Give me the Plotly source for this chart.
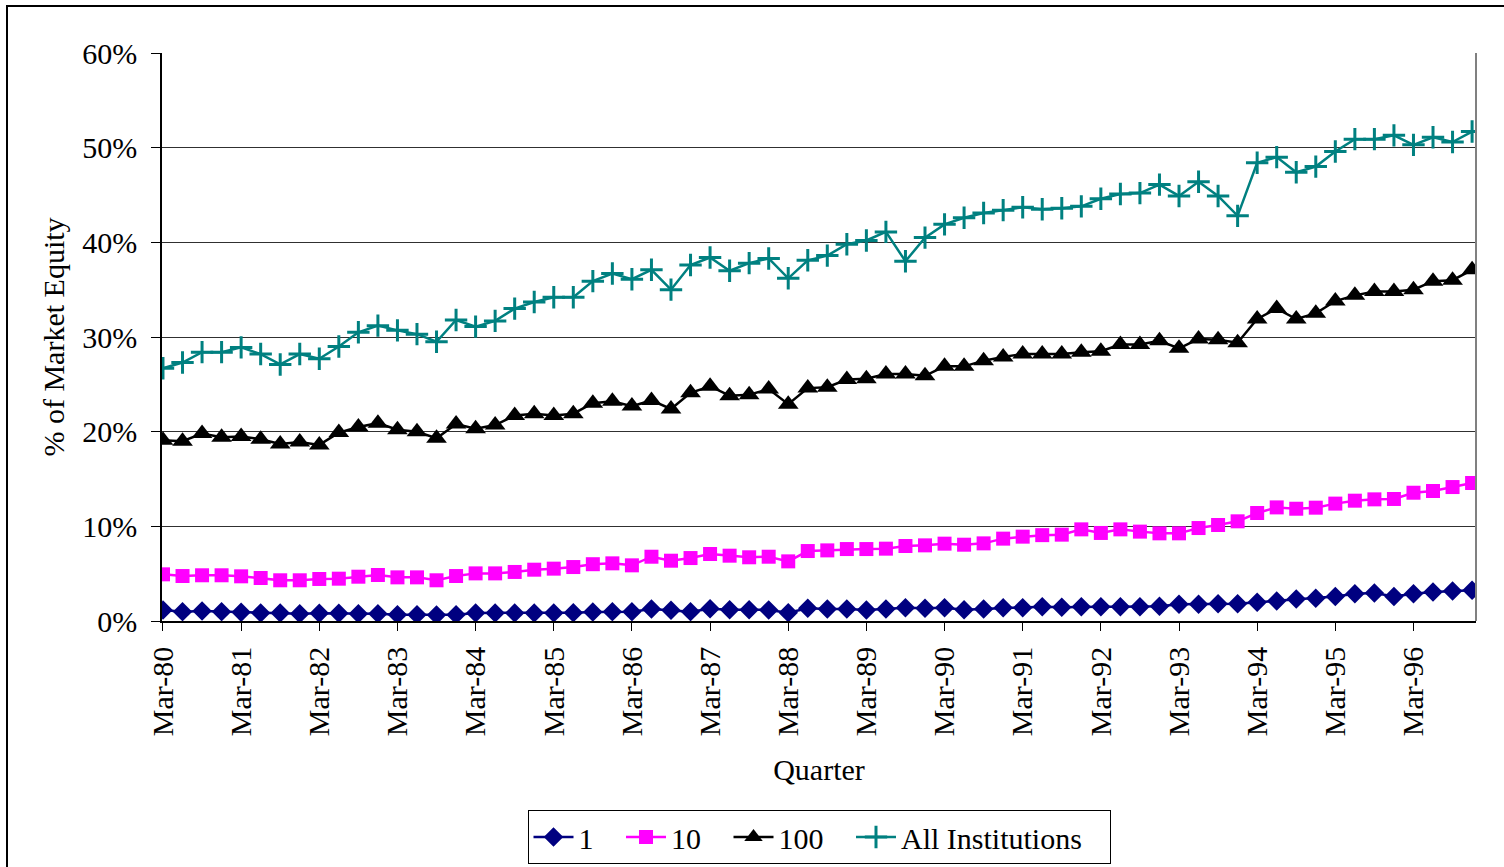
import plotly.graph_objects as go

years = list(range(80, 97))
quarters = ["Mar", "Jun", "Sep", "Dec"]
categories = [f"{q}-{y}" for y in years for q in quarters]
tick_labels = [f"Mar-{y}" for y in years]

top1 = [1.16, 0.99, 1.06, 0.99, 0.92, 0.85, 0.85, 0.77, 0.81, 0.81, 0.77, 0.77,
        0.67, 0.67, 0.63, 0.67, 0.85, 0.85, 0.85, 0.85, 0.85, 0.88, 0.95, 0.99,
        0.99, 1.27, 1.13, 0.99, 1.30, 1.20, 1.20, 1.17, 0.88, 1.34, 1.27, 1.27,
        1.17, 1.27, 1.41, 1.34, 1.41, 1.20, 1.27, 1.41, 1.41, 1.51, 1.44, 1.51,
        1.51, 1.51, 1.51, 1.55, 1.76, 1.76, 1.83, 1.83, 1.97, 2.11, 2.32, 2.39,
        2.60, 2.89, 2.96, 2.60, 2.89, 3.06, 3.17, 3.24]

top10 = [4.93, 4.75, 4.83, 4.83, 4.72, 4.54, 4.30, 4.30, 4.44, 4.47, 4.68, 4.86,
         4.61, 4.61, 4.30, 4.75, 5.03, 5.03, 5.18, 5.42, 5.53, 5.70, 6.00, 6.09,
         5.88, 6.79, 6.37, 6.65, 7.08, 6.90, 6.73, 6.79, 6.30, 7.39, 7.46, 7.60,
         7.60, 7.64, 7.92, 7.99, 8.17, 8.06, 8.20, 8.70, 8.91, 9.07, 9.12, 9.68,
         9.30, 9.68, 9.44, 9.26, 9.26, 9.82, 10.14, 10.53, 11.41, 12.00, 11.86, 11.97,
         12.40, 12.71, 12.85, 12.89, 13.55, 13.73, 14.15, 14.58]

top100 = [19.1, 19.0, 19.8, 19.4, 19.5, 19.2, 18.7, 18.9, 18.6, 19.9, 20.5, 20.9,
          20.2, 20.0, 19.3, 20.8, 20.3, 20.7, 21.7, 21.9, 21.7, 21.9, 23.0, 23.2,
          22.7, 23.3, 22.4, 24.1, 24.8, 23.8, 23.9, 24.5, 22.9, 24.6, 24.7, 25.5,
          25.6, 26.1, 26.1, 25.9, 26.9, 26.9, 27.5, 27.9, 28.2, 28.2, 28.2, 28.4,
          28.5, 29.2, 29.2, 29.6, 28.8, 29.8, 29.7, 29.4, 31.9, 33.0, 31.9, 32.5,
          33.8, 34.4, 34.8, 34.8, 35.0, 35.9, 36.0, 37.1]

all_inst = [26.7, 27.3, 28.4, 28.4, 28.9, 28.2, 27.1, 28.2, 27.7, 29.0, 30.5, 31.2,
            30.7, 30.3, 29.5, 31.8, 31.1, 31.7, 33.0, 33.7, 34.2, 34.2, 35.9, 36.7,
            36.1, 37.1, 35.0, 37.6, 38.4, 37.0, 37.8, 38.3, 36.2, 38.1, 38.6, 39.8,
            40.2, 41.1, 38.0, 40.5, 41.9, 42.6, 43.1, 43.4, 43.7, 43.5, 43.6, 43.8,
            44.6, 45.1, 45.2, 46.1, 44.9, 46.4, 44.9, 42.8, 48.4, 49.0, 47.4, 48.0,
            49.6, 50.9, 50.9, 51.3, 50.3, 51.1, 50.6, 51.7]

series_names = ["1", "10", "100", "All Institutions"]
series_values = [top1, top10, top100, all_inst]
colors = ["#000080", "#FF00FF", "#000000", "#008080"]
symbols = ["diamond", "square", "triangle-up", "cross-thin"]
msizes = [15, 14, 18, 16]

x_idx = list(range(len(categories)))
tickvals = [i for i, c in enumerate(categories) if c.startswith("Mar")]

FONT = "Liberation Serif, Times New Roman, serif"
FS = 30

fig = go.Figure()
for name, vals, col, sym, ms in zip(series_names, series_values, colors, symbols, msizes):
    marker = dict(symbol=sym, size=ms, color=col)
    if sym == "cross-thin":
        marker["line"] = dict(color=col, width=3)
    else:
        marker["line"] = dict(width=0)
    fig.add_trace(go.Scatter(
        x=x_idx, y=[v / 100 for v in vals], name=name + "\u00a0\u00a0\u00a0",
        mode="lines+markers",
        line=dict(color=col, width=2.5), marker=marker,
        customdata=categories,
        hovertemplate="%{customdata}: %{y:.1%}<extra>" + name + "</extra>",
    ))

fig.update_layout(
    width=1504, height=867,
    margin=dict(l=162, r=28, t=53, b=246, autoexpand=False),
    paper_bgcolor="white", plot_bgcolor="white",
    font=dict(family=FONT, size=FS, color="black"),
    showlegend=True,
    legend=dict(
        orientation="h", x=0.5, xanchor="center", y=(621 - 864) / 568, yanchor="bottom",
        bordercolor="black", borderwidth=1, font=dict(size=FS),
        itemwidth=40, tracegroupgap=0,
    ),
    xaxis=dict(
        range=[-0.05, 67.2], tickmode="array", tickvals=tickvals, ticktext=tick_labels,
        tickangle=-90, ticks="outside", ticklen=8, tickcolor="black",
        ticklabelstandoff=4, automargin=False,
        showline=True, linecolor="black", linewidth=1.5,
        showgrid=False, zeroline=False,
        title=dict(text="Quarter", standoff=24, font=dict(size=FS)),
    ),
    yaxis=dict(
        range=[0, 0.6], tickvals=[0, 0.1, 0.2, 0.3, 0.4, 0.5, 0.6],
        tickformat=".0%", ticks="outside", ticklen=9, tickcolor="black",
        ticklabelstandoff=8, automargin=False,
        showline=True, linecolor="black", linewidth=1.5,
        showgrid=True, gridcolor="#303030", gridwidth=1.2, zeroline=False,
        title=dict(text="% of Market Equity", standoff=9, font=dict(size=FS)),
    ),
    shapes=[
        dict(type="line", xref="paper", yref="paper", x0=1, x1=1, y0=0, y1=1,
             line=dict(color="#808080", width=2)),
        dict(type="rect", xref="paper", yref="paper",
             x0=(7 - 162) / 1314, x1=(1520 - 162) / 1314,
             y0=(621 - 880) / 568, y1=(621 - 6) / 568,
             line=dict(color="black", width=2), fillcolor="rgba(0,0,0,0)", layer="below"),
    ],
)

fig.write_html("out.html")
